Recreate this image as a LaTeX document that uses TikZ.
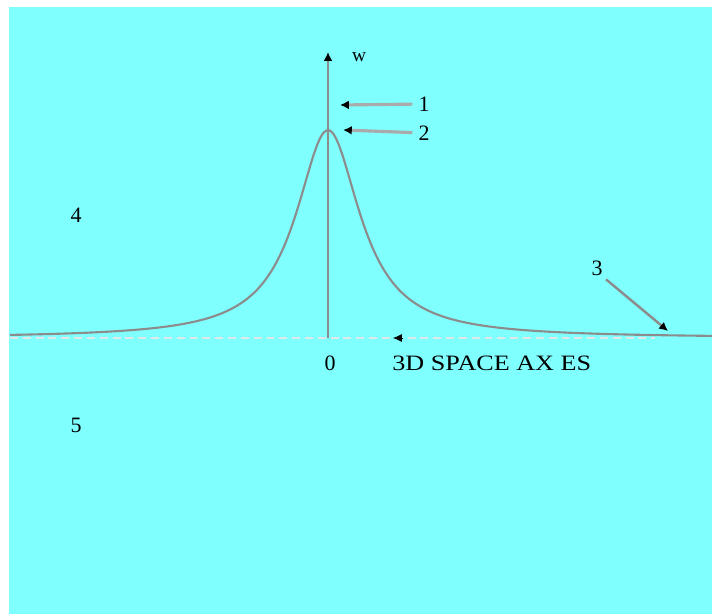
\documentclass[tikz,border=0pt]{standalone}
\usepackage{fontspec}
\setmainfont{Liberation Serif}
\usetikzlibrary{arrows.meta}
\definecolor{cBack}{RGB}{128,255,255}
\definecolor{cLine}{RGB}{140,140,140}
\definecolor{cPtr}{RGB}{170,170,170}
\definecolor{cDash}{RGB}{225,232,232}

\begin{document}
\begin{tikzpicture}[x=0.02cm,y=-0.02cm,
    lbl/.style={font=\fontsize{12.5}{14}\selectfont},
    ptr/.style={cPtr,line width=1.8pt,-{Latex[black,length=5pt,width=5pt]}}]
  \useasboundingbox (0,0) rectangle (712,615);
  \fill[white] (0,0) rectangle (712,615);
  \fill[cBack] (9,7) rectangle (712,614);
  % dashed space axis
  \coordinate (axL) at (10,338);
  \coordinate (axR) at (655,338);
  \coordinate (axA) at (393,338);
  \draw[cDash,line width=1.4pt,dash pattern=on 4.5pt off 2.8pt] (axL) -- (axR);
  \draw[-{Latex[black,length=5pt,width=4.5pt]}] (axA) ++(10,0) coordinate (axB) (axB) -- (axA);
  % curve
  \draw[cLine,line width=1.2pt] plot[smooth,domain=10:712,samples=140] (\x,{338-208/(1+((\x-328)/39)^2)});
  % w axis
  \coordinate (o) at (328,338);
  \coordinate (wtop) at (328,52);
  \draw[cLine,line width=1.6pt,-{Latex[black,length=5pt,width=5pt]}] (o) -- (wtop);
  \node[font=\fontsize{11}{12}\selectfont] (w) at (359,57) {w};
  % pointers
  \node[lbl] (n1) at (424,104) {1};
  \node[lbl] (n2) at (424,133) {2};
  \node[lbl] (n3) at (597,268) {3};
  \coordinate (p1) at (340,105);
  \coordinate (p2) at (343,130);
  \coordinate (p3) at (668,331);
  \draw[ptr] (n1) -- (p1);
  \draw[ptr] (n2) -- (p2);
  \draw[ptr,cLine,line width=1.4pt,shorten <=-2pt] (n3.south east) -- (p3);
  % labels
  \node[lbl] (zero) at (330,363) {0};
  \node[lbl,anchor=west,inner sep=0pt] (axes) at (392,363) {\scalebox{1.19}[1]{3D SPACE AX ES}};
  \node[lbl] (n4) at (76,215) {4};
  \node[lbl] (n5) at (76,425) {5};
\end{tikzpicture}
\end{document}
